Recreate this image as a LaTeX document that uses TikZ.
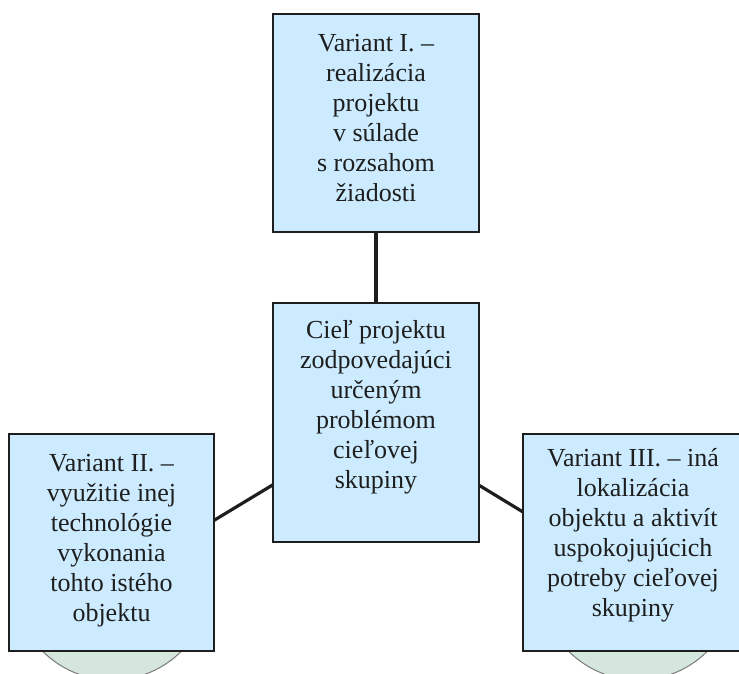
\documentclass[tikz,border=0pt]{standalone}
\usepackage{fontspec}
\setmainfont{Liberation Serif}
\pgfdeclarelayer{circs}
\pgfdeclarelayer{links}
\pgfsetlayers{circs,links,main}
\definecolor{boxfill}{HTML}{CCEBFF}
\definecolor{circfill}{HTML}{D5E6DC}
\definecolor{circline}{HTML}{7A7A7A}
\definecolor{ink}{HTML}{1E1E1E}
\begin{document}
\begin{tikzpicture}[x=1pt,y=-1pt,
  vbox/.style={draw=ink, line width=1.5pt, fill=boxfill, inner sep=0pt},
  vtext/.style={align=center, text=ink, inner sep=0pt, anchor=base,
    font=\fontsize{26}{30}\selectfont},
  circ/.style={circle, draw=circline, line width=1pt, fill=circfill,
    minimum size=196pt, inner sep=0pt},
  link/.style={draw=ink, line width=3.2pt}]
\useasboundingbox (0,0) rectangle (739,673);
\clip (0,0) rectangle (739,673);
% boxes
\node[vbox, minimum width=206pt, minimum height=218pt] (tbox) at (376,123) {};
\node[vbox, minimum width=206pt, minimum height=239pt] (cbox) at (376,422.5) {};
\node[vbox, minimum width=205pt, minimum height=217pt] (lbox) at (111.5,542.5) {};
\node[vbox, minimum width=220pt, minimum height=217pt] (rbox) at (633,542.5) {};
% circles behind
\begin{pgfonlayer}{circs}
\node[circ] (lcirc) at (112,582) {};
\node[circ] (rcirc) at (638,582) {};
\end{pgfonlayer}
% connectors
\begin{pgfonlayer}{links}
\draw[link] (cbox.center) -- (tbox.center);
\draw[link] (cbox.center) -- (lcirc.center);
\draw[link] (cbox.center) -- (rcirc.center);
\end{pgfonlayer}
% texts (base = baseline of last line)
\node[vtext] (ttop) at (376,201.5) {Variant I. –\\realizácia\\projektu\\v súlade\\s rozsahom\\žiadosti};
\node[vtext] (tcen) at (376,488) {Cieľ projektu\\zodpovedajúci\\určeným\\problémom\\cieľovej\\skupiny};
\node[vtext] (tlef) at (111.5,621.5) {Variant II. –\\využitie inej\\technológie\\vykonania\\tohto istého\\objektu};
\node[vtext] (trig) at (633,616.5) {Variant III. – iná\\lokalizácia\\objektu a aktivít\\uspokojujúcich\\potreby cieľovej\\skupiny};
\end{tikzpicture}
\end{document}
